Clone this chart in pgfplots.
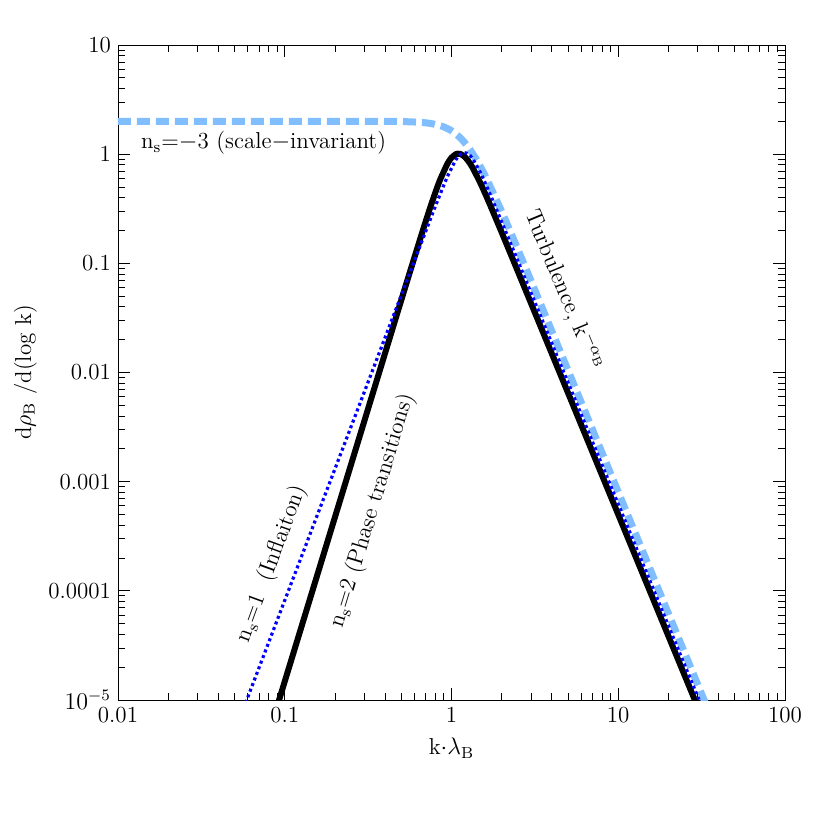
\documentclass[border=0pt]{standalone}
\usepackage{pgfplots}
\pgfplotsset{compat=1.18}
\definecolor{lightblue}{RGB}{128,190,255}
\begin{document}
\begin{tikzpicture}
\path[use as bounding box] (-59pt,-65pt) rectangle (356pt,350pt);
\begin{axis}[
 at={(0,0)}, anchor=south west,
 scale only axis, width=333.5pt, height=327.5pt,
 xmode=log, ymode=log, xmin=0.01, xmax=100, ymin=1e-5, ymax=10,
 xtick={0.01,0.1,1,10,100}, xticklabels={0.01,0.1,1,10,100},
 ytick={1e-5,1e-4,1e-3,0.01,0.1,1,10},
 yticklabels={$10^{-5}$,0.0001,0.001,0.01,0.1,1,10},
 tick label style={font=\fontsize{11.5}{13}\selectfont},
 major tick length=6pt, minor tick length=3.5pt,
 tick style={black, line width=0.4pt},
 xlabel={k$\cdot\lambda_{\mathrm{B}}$},
 ylabel={d$\rho_{\mathrm{B}}$ /d(log k)},
 label style={font=\fontsize{11.5}{13}\selectfont},
 xlabel style={at={(axis description cs:0.5,-0.0733)}, anchor=center},
 ylabel style={at={(axis description cs:-0.139,0.5)}, anchor=center},
]
% n_s = -3 (scale-invariant)
\addplot[lightblue, line width=3.5pt, dash pattern=on 6.5pt off 3pt, smooth, tension=0.4] coordinates {
 (0.01,2.0) (0.1,2.0) (0.2512,2.0) (0.3981,1.9972) (0.5012,1.990) (0.6310,1.9646)
 (0.7079,1.9343) (0.7943,1.8799) (0.8913,1.7866) (1.0,1.6381) (1.1220,1.4254)
 (1.2589,1.1634) (1.4125,0.8888) (1.5849,0.6419) (1.9953,0.3007) (2.5119,0.1320)
 (3.9811,0.02428) (50.12,2.067e-6)
};
% n_s = 2 (phase transitions)
\addplot[black, line width=3pt, smooth, tension=0.4] coordinates {
 (0.0752,3.556e-6) (0.3361,0.006324) (0.5325,0.06309) (0.6706,0.19646) (0.7524,0.3389)
 (0.8443,0.5573) (0.9473,0.8226) (1.0035,0.9338) (1.0629,1.000) (1.0877,1.0100)
 (1.1258,1.0065) (1.1926,0.9553) (1.2634,0.8633) (1.3380,0.7517) (1.5013,0.5310)
 (1.6845,0.3574) (2.1208,0.15487) (3.3614,0.02825) (33.614,5.636e-6)
};
% n_s = 1 (inflation)
\addplot[blue, line width=1.6pt, dash pattern=on 1.5pt off 1.5pt, smooth, tension=0.4] coordinates {
 (0.04739,4.12e-6) (0.3763,0.01641) (0.5964,0.1034) (0.7508,0.2588) (0.8427,0.4067)
 (0.9454,0.6237) (1.0607,0.8843) (1.1235,0.9874) (1.1900,1.0325) (1.2606,1.0044)
 (1.3356,0.9156) (1.4985,0.6683) (1.6810,0.4511) (1.8863,0.2972) (2.3748,0.1272)
 (3.7625,0.02315) (47.38,1.97e-6)
};
\node[anchor=west, font=\fontsize{11.5}{13}\selectfont] at (axis cs:0.0125,1.26)
 {n$_{\mathrm{s}}$=$-$3 (scale$-$invariant)};
\node[rotate=-67.5, font=\fontsize{11.5}{13}\selectfont] at (axis cs:4.75,0.0565)
 {Turbulence, k$^{-\alpha_{\mathrm{B}}}$};
\node[rotate=70, font=\fontsize{11.5}{13}\selectfont] at (axis cs:0.0836,1.77e-4)
 {n$_{\mathrm{s}}$=1\ \ (Inflaiton)};
\node[rotate=73, font=\fontsize{11.5}{13}\selectfont] at (axis cs:0.3365,5.42e-4)
 {n$_{\mathrm{s}}$=2 (Phase transitions)};
\end{axis}
\end{tikzpicture}
\end{document}
